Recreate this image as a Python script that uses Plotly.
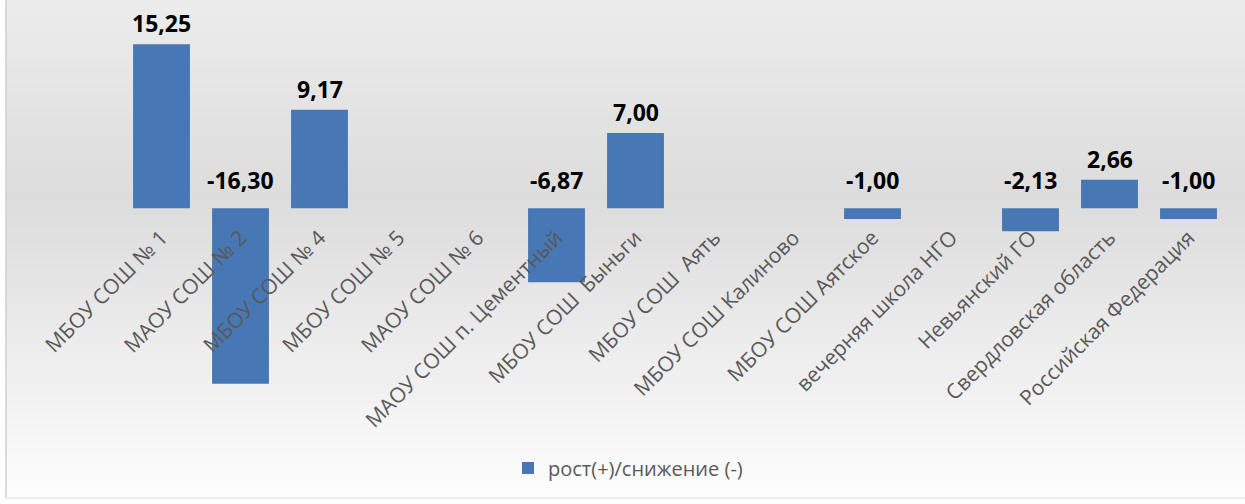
import plotly.graph_objects as go

categories = [
    "МБОУ СОШ № 1", "МАОУ СОШ № 2", "МБОУ СОШ № 4", "МБОУ СОШ № 5",
    "МАОУ СОШ № 6", "МАОУ СОШ п. Цементный", "МБОУ СОШ\u00a0 Быньги",
    "МБОУ СОШ\u00a0 Аять", "МБОУ СОШ Калиново", "МБОУ СОШ Аятское",
    "вечерняя школа НГО", "Невьянский ГО", "Свердловская область",
    "Российская Федерация",
]
values = [15.25, -16.30, 9.17, None, None, -6.87, 7.00, None, None, -1.00,
          None, -2.13, 2.66, -1.00]
series_name = "рост(+)/снижение (-)"

W, H = 1245, 504
ML, MR, MT, MB = 122, 17, 20, 102
YMIN, YMAX = -18.0, 17.5
plot_h = H - MT - MB
plot_w = W - ML - MR

BAR_COLOR = "#4777b4"
FONT = "Open Sans"

fig = go.Figure()
fig.add_trace(go.Bar(
    x=categories, y=values, name=series_name,
    marker=dict(color=BAR_COLOR, line=dict(width=0)),
    width=0.72, showlegend=True,
))

# value labels
for c, v in zip(categories, values):
    if v is None:
        continue
    txt = f"{v:.2f}".replace(".", ",")
    fig.add_annotation(
        x=c, y=v if v > 0 else 0, text=f"<b>{txt}</b>", showarrow=False,
        yanchor="bottom", yshift=3 if v > 0 else 10,
        font=dict(family=FONT, size=23, color="#000000"),
    )

# background gradient (style only)
shapes = []
N = 60
def bg(py):
    if py <= 200:
        g = 236 - (236 - 220) * py / 200
    else:
        g = 220 + (254 - 220) * (py - 200) / (H - 200)
    g = int(round(g))
    return f"rgb({g},{g},{g})"
for i in range(N):
    py0 = H * i / N
    py1 = H * (i + 1) / N + 1
    shapes.append(dict(
        type="rect", xref="paper", yref="paper", layer="below",
        x0=(6 - ML) / plot_w, x1=(W - ML) / plot_w,
        y0=(H - MB - py1) / plot_h, y1=(H - MB - py0) / plot_h,
        line=dict(width=0), fillcolor=bg((py0 + py1) / 2),
    ))
# chart border on the left / bottom
shapes.append(dict(
    type="line", xref="paper", yref="paper",
    x0=(6 - ML) / plot_w, x1=(6 - ML) / plot_w,
    y0=(H - MB - 0) / plot_h, y1=(H - MB - 498) / plot_h,
    line=dict(color="#cfcfcf", width=1.5),
))
shapes.append(dict(
    type="line", xref="paper", yref="paper",
    x0=(6 - ML) / plot_w, x1=(W - ML) / plot_w,
    y0=(H - MB - 498) / plot_h, y1=(H - MB - 498) / plot_h,
    line=dict(color="#e0e0e0", width=1),
))

zero_pos = (0 - YMIN) / (YMAX - YMIN)

fig.update_layout(
    width=W, height=H,
    margin=dict(l=ML, r=MR, t=MT, b=MB, pad=0, autoexpand=False),
    paper_bgcolor="#ffffff", plot_bgcolor="rgba(0,0,0,0)",
    shapes=shapes,
    bargap=0.28,
    font=dict(family=FONT),
    xaxis=dict(
        anchor="free", position=zero_pos, tickangle=-45,
        showline=False, ticks="", showgrid=False, zeroline=False,
        tickfont=dict(family=FONT, size=21, color="#595959"),
        ticklabelstandoff=12, automargin=False,
    ),
    yaxis=dict(range=[YMIN, YMAX], visible=False, showgrid=False,
               zeroline=False, automargin=False),
    legend=dict(
        orientation="h", x=(508 - ML) / plot_w, xanchor="left",
        y=(H - MB - 468) / plot_h, yanchor="middle",
        font=dict(family=FONT, size=20, color="#595959"),
        bgcolor="rgba(0,0,0,0)",
    ),
)

fig.write_html(
    "out.html",
    config={"displayModeBar": False},
    post_script="document.body.style.margin='0px';document.body.style.overflow='hidden';",
)
